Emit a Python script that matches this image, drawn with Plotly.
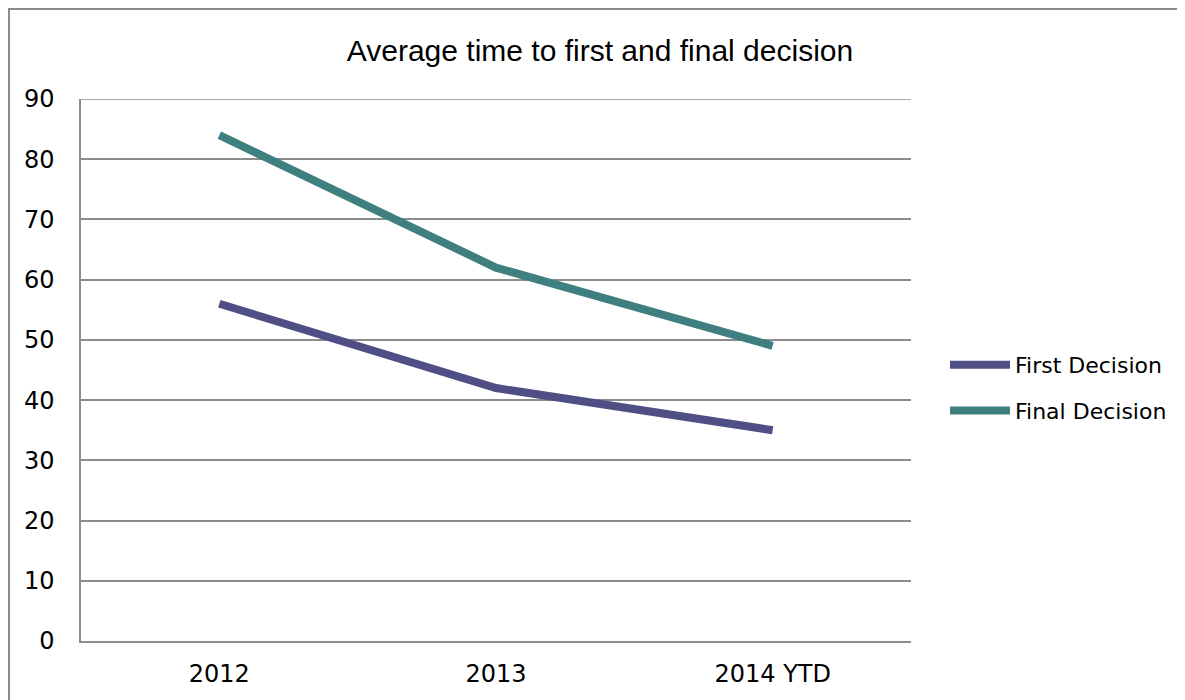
import plotly.graph_objects as go

categories = ["2012", "2013", "2014 YTD"]
first_decision = [56, 42, 35]
final_decision = [84, 62, 49]
y_ticks = [0, 10, 20, 30, 40, 50, 60, 70, 80, 90]

# page has an 8px body margin; work in figure coordinates
OFF = 8
W, H = 1185 - OFF, 700 - OFF
L, R, T, B = 81 - OFF, 911 - OFF, 99 - OFF, 641 - OFF

fig = go.Figure()
fig.add_trace(go.Scatter(x=categories, y=first_decision, mode="lines", name="First Decision",
                         legendgroup="a",
                         line=dict(color="#4F4F86", width=8)))
fig.add_trace(go.Scatter(x=categories, y=final_decision, mode="lines", name="Final Decision",
                         legendgroup="b",
                         line=dict(color="#3F7F80", width=8)))

pw, ph = R - L, B - T
def px_x(x): return (x - OFF - L) / pw
def px_y(y): return (B - (y - OFF)) / ph

fig.add_shape(type="rect", xref="paper", yref="paper",
              x0=px_x(9), x1=px_x(1200), y0=px_y(760), y1=px_y(9),
              line=dict(color="#8c8c8c", width=2), fillcolor="rgba(0,0,0,0)", layer="below")
# top gridline at the axis maximum
fig.add_shape(type="line", xref="paper", yref="y", x0=0, x1=1,
              y0=y_ticks[-1], y1=y_ticks[-1],
              line=dict(color="#8c8c8c", width=1.5), layer="below")

fig.update_layout(
    width=W, height=H,
    margin=dict(l=L, r=W - R, t=T, b=H - B, pad=0),
    paper_bgcolor="white", plot_bgcolor="white",
    title=dict(text="Average time to first and final decision", x=(600 - OFF) / W, xanchor="center",
               y=1 - (50 - OFF) / H, yanchor="middle",
               font=dict(family="Liberation Sans, Arial", size=30, color="black")),
    font=dict(family="DejaVu Sans", size=22, color="black"),
    xaxis=dict(type="category", range=[-0.5, 2.5], showgrid=False, showline=True,
               linecolor="#8c8c8c", linewidth=1.5, ticks="", tickfont=dict(size=24),
               ticklabelstandoff=10),
    yaxis=dict(range=[0, 90], tickvals=y_ticks, showgrid=True, gridcolor="#8c8c8c", gridwidth=1.5,
               showline=True, linecolor="#8c8c8c", linewidth=1.5, ticks="", zeroline=False,
               tickfont=dict(size=24), ticklabelstandoff=20),
    legend=dict(x=px_x(945), y=px_y(344), xanchor="left", yanchor="top",
                font=dict(size=22), tracegroupgap=14, itemwidth=60,
                bgcolor="rgba(0,0,0,0)"),
    showlegend=True,
)
fig.write_html("out.html")
